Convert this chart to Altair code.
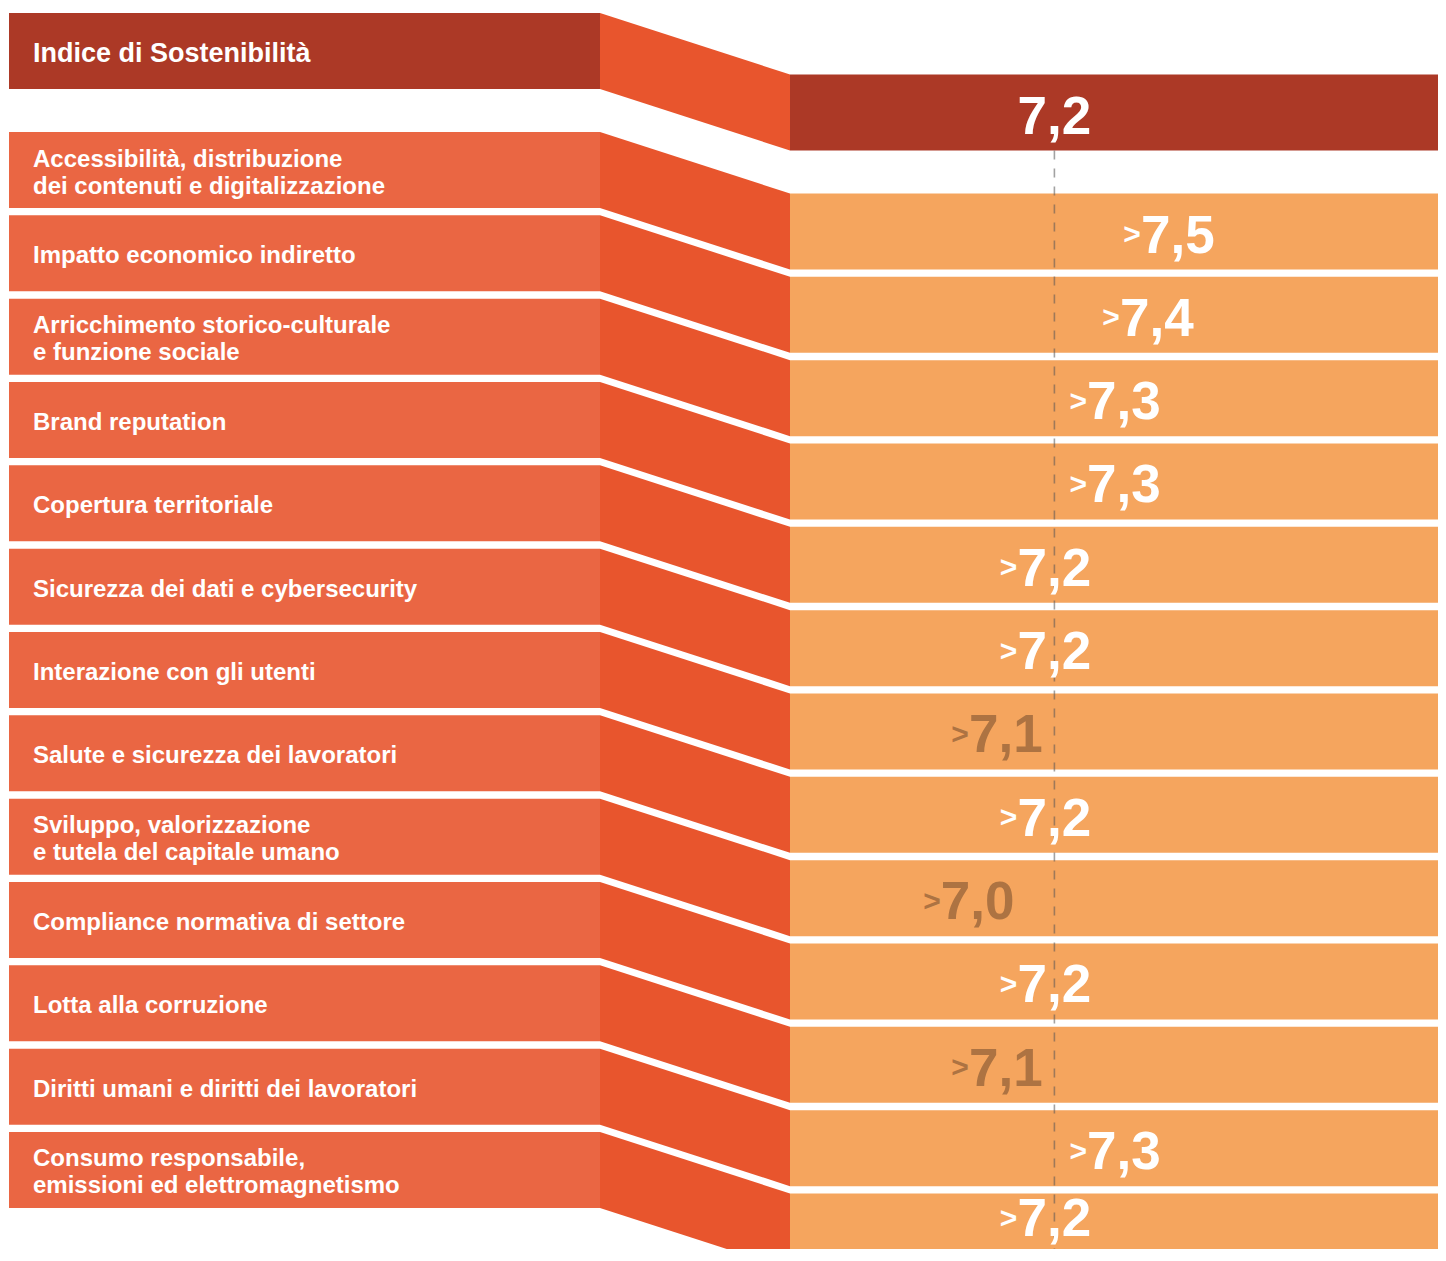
import altair as alt
import pandas as pd

# ---------------- data ----------------
title_label = "Indice di Sostenibilità"
index_value = 7.2
index_text = "7,2"

categories = [
    "Accessibilità, distribuzione\ndei contenuti e digitalizzazione",
    "Impatto economico indiretto",
    "Arricchimento storico-culturale\ne funzione sociale",
    "Brand reputation",
    "Copertura territoriale",
    "Sicurezza dei dati e cybersecurity",
    "Interazione con gli utenti",
    "Salute e sicurezza dei lavoratori",
    "Sviluppo, valorizzazione\ne tutela del capitale umano",
    "Compliance normativa di settore",
    "Lotta alla corruzione",
    "Diritti umani e diritti dei lavoratori",
    "Consumo responsabile,\nemissioni ed elettromagnetismo",
]
# estimated underlying scores (position) and printed values
scores = [7.459, 7.415, 7.346, 7.346, 7.2, 7.2, 7.098, 7.2, 7.039, 7.2, 7.098, 7.346, 7.2]
score_texts = ["7,5", "7,4", "7,3", "7,3", "7,2", "7,2", "7,1", "7,2", "7,0", "7,2", "7,1", "7,3", "7,2"]

# ---------------- layout (page pixels) ----------------
W, H = 1430, 1241
LEFT_X0, LEFT_X1 = 9, 600
RIGHT_X0, RIGHT_X1 = 790, 1446
TITLE_TOP = 13
ROW0_TOP = 132
ROW_STEP = 83.33
BOX_H = 76
DROP = 61.5
LABEL_X = 33
BOTTOM = 1261
TEXT_FLOOR = 8 + H - 13   # lowest baseline that keeps the whole text visible

C_TITLE = "#AC3926"
C_LEFT = "#EA6643"
C_CONN = "#E8552D"
C_BAND = "#F5A55E"
C_LOW = "#AD7342"

tops = [TITLE_TOP] + [ROW0_TOP + i * ROW_STEP for i in range(len(categories))]

boxes, bands, conn = [], [], []
for i, t in enumerate(tops):
    is_title = i == 0
    boxes.append(dict(x0=LEFT_X0, x1=LEFT_X1, y0=t, y1=t + BOX_H,
                      fill=C_TITLE if is_title else C_LEFT))
    bands.append(dict(x0=RIGHT_X0, x1=RIGHT_X1, y0=t + DROP, y1=t + DROP + BOX_H,
                      fill=C_TITLE if is_title else C_BAND))
    conn.append(dict(row=i, x=LEFT_X1, ya=t, yb=t + BOX_H))
    conn.append(dict(row=i, x=RIGHT_X0, ya=t + DROP, yb=t + DROP + BOX_H))

labs = []
for t, c in zip(tops[1:], categories):
    n = c.count("\n") + 1
    labs.append(dict(x=LABEL_X, y=t + BOX_H / 2 + 3 - (n - 1) * 13.5, text=c))
labs_df = pd.DataFrame(labs)
title_df = pd.DataFrame([dict(x=LABEL_X, y=TITLE_TOP + BOX_H / 2 + 2.5, text=title_label)])

vals = []
for t, s, st in zip(tops[1:], scores, score_texts):
    hi = float(st.replace(",", ".")) >= index_value
    yb = min(t + DROP + 59, TEXT_FLOOR)
    vals.append(dict(score=s, text=st, yb=yb, yc=yb - 8.5,
                     col="#FFFFFF" if hi else C_LOW))
vals_df = pd.DataFrame(vals)
idx_df = pd.DataFrame([dict(score=index_value, text=index_text, yb=TITLE_TOP + DROP + 59)])
rule_df = pd.DataFrame([dict(score=index_value, y0=TITLE_TOP + DROP + BOX_H, y1=BOTTOM)])

boxes_df = pd.DataFrame(boxes)
bands_df = pd.DataFrame(bands)
conn_df = pd.DataFrame(conn)

# ---------------- scales ----------------
PX = alt.Scale(domain=[8, 8 + W], nice=False, zero=False)
PY = alt.Scale(domain=[8, 8 + H], reverse=True, nice=False, zero=False)
VX = alt.Scale(domain=[6.645, 8.022], range=[RIGHT_X0 - 8, RIGHT_X1 - 8], nice=False, zero=False)

FONT = "Liberation Sans"

conn_layer = alt.Chart(conn_df).mark_area(color=C_CONN, clip=True).encode(
    x=alt.X("x:Q", scale=PX, axis=None),
    y=alt.Y("ya:Q", scale=PY, axis=None),
    y2="yb:Q",
    detail="row:N",
)

box_layer = alt.Chart(boxes_df).mark_rect(clip=True).encode(
    x=alt.X("x0:Q", scale=PX, axis=None), x2="x1:Q",
    y=alt.Y("y0:Q", scale=PY, axis=None), y2="y1:Q",
    color=alt.Color("fill:N", scale=None),
)

band_layer = alt.Chart(bands_df).mark_rect(clip=True).encode(
    x=alt.X("x0:Q", scale=PX, axis=None), x2="x1:Q",
    y=alt.Y("y0:Q", scale=PY, axis=None), y2="y1:Q",
    color=alt.Color("fill:N", scale=None),
)

label_layer = alt.Chart(labs_df).mark_text(
    font=FONT, fontWeight="bold", fontSize=24, align="left", baseline="middle",
    lineBreak="\n", lineHeight=27, color="white",
).encode(
    x=alt.X("x:Q", scale=PX, axis=None),
    y=alt.Y("y:Q", scale=PY, axis=None),
    text="text:N",
)

title_layer = alt.Chart(title_df).mark_text(
    font=FONT, fontWeight="bold", fontSize=27, align="left", baseline="middle", color="white",
).encode(
    x=alt.X("x:Q", scale=PX, axis=None),
    y=alt.Y("y:Q", scale=PY, axis=None),
    text="text:N",
)

rule_layer = alt.Chart(rule_df).mark_rule(
    color="#555555", opacity=0.55, strokeWidth=1.6, strokeDash=[9, 9], clip=True,
).encode(
    x=alt.X("score:Q", scale=VX, axis=None),
    y=alt.Y("y0:Q", scale=PY, axis=None),
    y2="y1:Q",
)

num_layer = alt.Chart(vals_df).mark_text(
    font=FONT, fontWeight="bold", fontSize=53, align="center", baseline="alphabetic",
).encode(
    x=alt.X("score:Q", scale=VX, axis=None),
    y=alt.Y("yb:Q", scale=PY, axis=None),
    text="text:N",
    color=alt.Color("col:N", scale=None),
)

chev_layer = alt.Chart(vals_df).mark_text(
    font=FONT, fontWeight="bold", fontSize=30, align="right", baseline="alphabetic", dx=-37,
).encode(
    x=alt.X("score:Q", scale=VX, axis=None),
    y=alt.Y("yc:Q", scale=PY, axis=None),
    text=alt.value(">"),
    color=alt.Color("col:N", scale=None),
)

idx_layer = alt.Chart(idx_df).mark_text(
    font=FONT, fontWeight="bold", fontSize=53, align="center", baseline="alphabetic", color="white",
).encode(
    x=alt.X("score:Q", scale=VX, axis=None),
    y=alt.Y("yb:Q", scale=PY, axis=None),
    text="text:N",
)

chart = alt.layer(
    conn_layer, box_layer, band_layer, rule_layer,
    label_layer, title_layer, num_layer, chev_layer, idx_layer,
).resolve_scale(x="independent").properties(
    width=W, height=H, padding=0, autosize=alt.AutoSizeParams(type="none"),
    background="white",
).configure_view(stroke=None)

chart.save("out.html", embed_options={"renderer": "svg", "actions": False})
